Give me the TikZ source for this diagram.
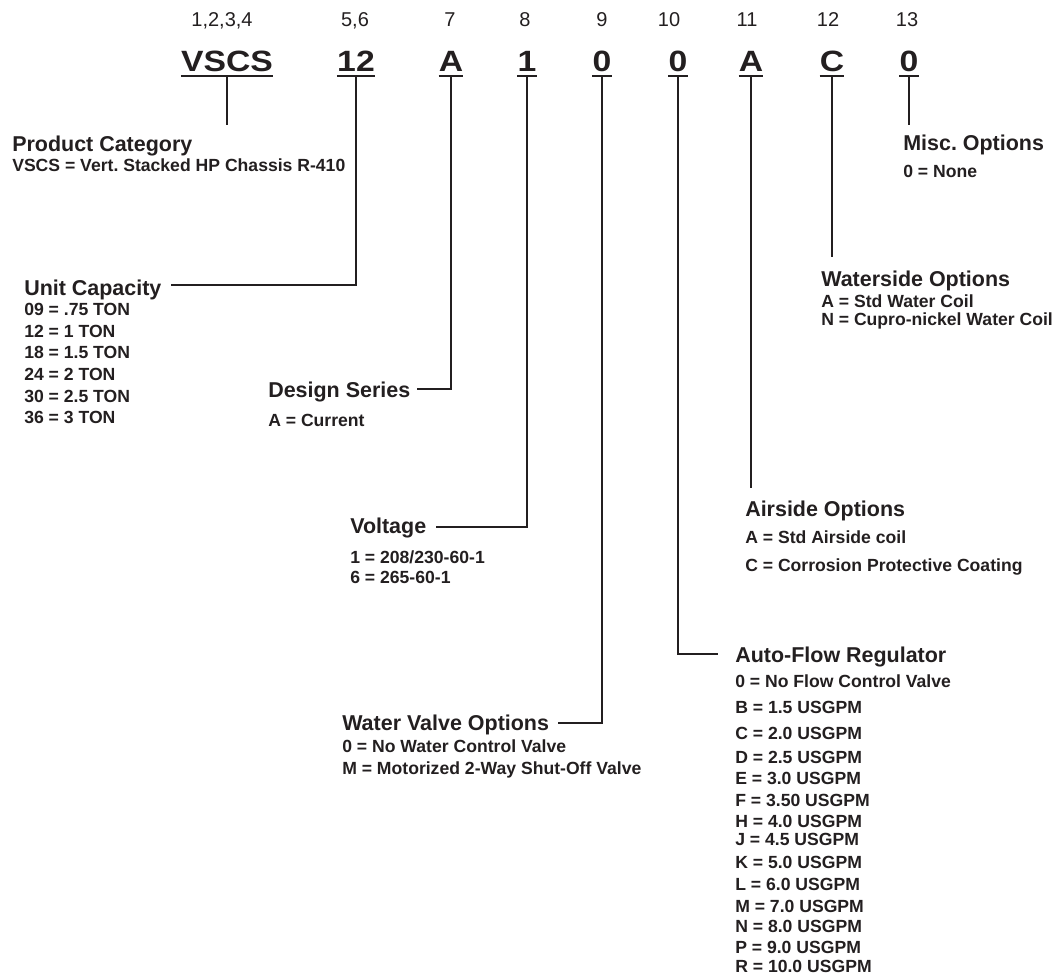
\documentclass[tikz,border=0pt]{standalone}
\usepackage{fontspec}
\setmainfont{Liberation Sans}
\usetikzlibrary{calc}
\definecolor{ink}{RGB}{35,31,32}
\frenchspacing
\tikzset{
  posnum/.style={font=\fontsize{15}{16}\selectfont, anchor=base, inner sep=0pt, text=ink},
  code/.style={font=\bfseries\fontsize{22}{23}\selectfont, anchor=base, inner sep=0pt, text=ink},
  title/.style={font=\bfseries\fontsize{16.1}{17}\selectfont, anchor=base west, inner sep=0pt, text=ink},
  opt/.style={font=\bfseries\fontsize{13.2}{14}\selectfont, anchor=base west, inner sep=0pt, text=ink},
  uline/.style={draw=ink, line width=2.2pt},
  lead/.style={draw=ink, line width=0.9pt}
}
\newcommand{\wide}[1]{\scalebox{1.15}[1]{#1}}

\begin{document}
\begin{tikzpicture}[x=0.75pt, y=-0.75pt]
\useasboundingbox (0,0) rectangle (1052,974);
\newcommand{\hy}{27}
\newcommand{\cy}{72}

\foreach \x/\t [count=\i] in {222/{1,2,3,4}, 355/{5,6}, 450/7, 525/8, 602/9, 669/10, 747/11, 828/12, 907/13}
  \node[posnum] (n\i) at (\x,\hy) {\t};
\foreach \x/\t [count=\i] in {227/VSCS, 356/12, 451/A, 527/1, 602/0, 678/0, 751/A, 832/C, 909/0}
{
  \node[code] (c\i) at (\x,\cy) {\wide{\t}};
  \draw[uline] ($(c\i.base west)+(0,4)$) -- ($(c\i.base east)+(0,4)$);
}

\node[title] (pcat) at (12,151) {Product Category};
\node[opt] (pcat-1) at (12,171) {VSCS = Vert. Stacked HP Chassis R-410};

\node[title] (ucap) at (24,295) {Unit Capacity};
\foreach \y/\t [count=\i] in {315/{09 = .75 TON}, 337/{12 = 1 TON}, 358/{18 = 1.5 TON}, 380/{24 = 2 TON}, 402/{30 = 2.5 TON}, 423/{36 = 3 TON}}
  \node[opt] (ucap-\i) at (24,\y) {\t};

\node[title] (dser) at (268,397) {Design Series};
\node[opt] (dser-1) at (268,426) {A = Current};

\node[title] (volt) at (350,533) {Voltage};
\node[opt] (volt-1) at (350,563) {1 = 208/230-60-1};
\node[opt] (volt-2) at (350,583) {6 = 265-60-1};

\node[title] (wvo) at (342,730) {Water Valve Options};
\node[opt] (wvo-1) at (342,752) {0 = No Water Control Valve};
\node[opt] (wvo-2) at (342,774) {M = Motorized 2-Way Shut-Off Valve};

\node[title] (afr) at (735,662) {Auto-Flow Regulator};
\foreach \y/\t [count=\i] in {687/{0 = No Flow Control Valve}, 713/{B = 1.5 USGPM}, 739/{C = 2.0 USGPM}, 763/{D = 2.5 USGPM}, 784/{E = 3.0 USGPM}, 806/{F = 3.50 USGPM}, 827/{H = 4.0 USGPM}, 845/{J = 4.5 USGPM}, 868/{K = 5.0 USGPM}, 890/{L = 6.0 USGPM}, 912/{M = 7.0 USGPM}, 932/{N = 8.0 USGPM}, 953/{P = 9.0 USGPM}, 972/{R = 10.0 USGPM}}
  \node[opt] (afr-\i) at (735,\y) {\t};

\node[title] (air) at (745,516) {Airside Options};
\node[opt] (air-1) at (745,543) {A = Std Airside coil};
\node[opt] (air-2) at (745,571) {C = Corrosion Protective Coating};

\node[title] (wso) at (821,286) {Waterside Options};
\node[opt] (wso-1) at (821,307) {A = Std Water Coil};
\node[opt] (wso-2) at (821,325) {N = Cupro-nickel Water Coil};

\node[title] (misc) at (903,150) {Misc. Options};
\node[opt] (misc-1) at (903,177) {0 = None};

\coordinate (pcat-end) at (227,125);
\coordinate (wso-end) at (832,257);
\coordinate (air-end) at (751,488);
\coordinate (misc-end) at (909,125);

\draw[lead] ($(c1.base)+(0,4)$) -- (pcat-end);
\draw[lead] ($(c2.base)+(0,4)$) |- ($(ucap.base east)+(9,-10)$);
\draw[lead] ($(c3.base)+(0,4)$) |- ($(dser.base east)+(6,-8)$);
\draw[lead] ($(c4.base)+(0,4)$) |- ($(volt.base east)+(10,-6)$);
\draw[lead] ($(c5.base)+(0,4)$) |- ($(wvo.base east)+(9,-7)$);
\draw[lead] ($(c6.base)+(0,4)$) |- ($(afr.base west)+(-17,-8)$);
\draw[lead] ($(c7.base)+(0,4)$) -- (air-end);
\draw[lead] ($(c8.base)+(0,4)$) -- (wso-end);
\draw[lead] ($(c9.base)+(0,4)$) -- (misc-end);
\end{tikzpicture}
\end{document}
